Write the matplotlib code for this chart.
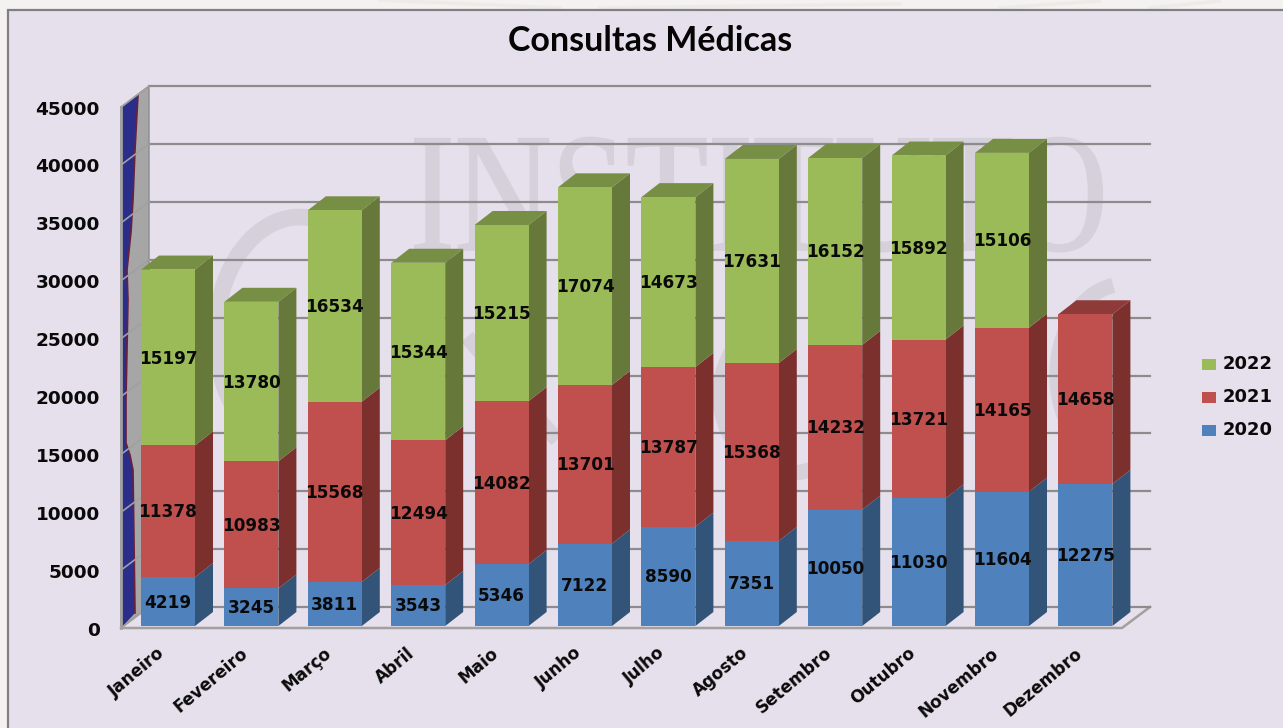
import numpy as np
import matplotlib
matplotlib.use('Agg')
import matplotlib.pyplot as plt
from matplotlib.patches import Polygon, PathPatch
from matplotlib.textpath import TextPath
from matplotlib.font_manager import FontProperties
from matplotlib.transforms import Affine2D

meses = ['Janeiro', 'Fevereiro', 'Março', 'Abril', 'Maio', 'Junho', 'Julho',
         'Agosto', 'Setembro', 'Outubro', 'Novembro', 'Dezembro']
v2020 = [4219, 3245, 3811, 3543, 5346, 7122, 8590, 7351, 10050, 11030, 11604, 12275]
v2021 = [11378, 10983, 15568, 12494, 14082, 13701, 13787, 15368, 14232, 13721, 14165, 14658]
v2022 = [15197, 13780, 16534, 15344, 15215, 17074, 14673, 17631, 16152, 15892, 15106, 0]
anos = ['2020', '2021', '2022']
yticks = [0, 5000, 10000, 15000, 20000, 25000, 30000, 35000, 40000, 45000]

cores = ['#4F81BD', '#C0504D', '#9BBB59']
cores_lado = ['#335479', '#7C302E', '#66783A']
cores_topo = ['#3F6797', '#8E3A38', '#778E45']

W, H = 1283, 728
fig = plt.figure(figsize=(W / 100, H / 100), dpi=100, facecolor='#F3F2F0')

# fundo em pixels (moldura e marca d'agua)
bg = fig.add_axes([0, 0, 1, 1])
bg.set_xlim(0, W)
bg.set_ylim(H, 0)
bg.axis('off')
bg.add_patch(Polygon([(8, 10), (W + 10, 10), (W + 10, H + 10), (8, H + 10)], fc='#E6E0EC', ec='#808080', lw=1.6))
for x0, x1, y0, y1 in [(380, 560, 0, 8), (600, 900, 8, 4), (1000, 1100, 8, 1), (1150, 1220, 8, 1)]:
    bg.plot([x0, x1], [y0, y1], color='#ECEBE7', lw=2.5, zorder=0.5)

marca = '#D5D0DA'
fp = FontProperties(family='Liberation Serif')
tp = TextPath((0, 0), 'INSTITUTO', size=100, prop=fp)
tr = Affine2D().scale(7.0 / 5.22, -1.7).translate(410, 250)
bg.add_patch(PathPatch(tp.transformed(tr), fc=marca, ec=marca, lw=1.2))
# pedacos do logo que aparecem entre as barras
t = np.radians(np.linspace(70, 265, 80))
bg.plot(300 + 84 * np.cos(t), 335 - 118 * np.sin(t), color=marca, lw=12, solid_capstyle='butt')
t = np.radians(np.linspace(100, 255, 60))
bg.plot(1125 + 68 * np.cos(t), 375 - 91 * np.sin(t), color=marca, lw=11, solid_capstyle='butt')
t = np.radians(np.linspace(120, 300, 60))
bg.plot(790 + 70 * np.cos(t), 395 - 78 * np.sin(t), color=marca, lw=11, solid_capstyle='butt')
bg.plot([467, 557], [337, 440], color=marca, lw=11, solid_capstyle='butt')

# eixo principal: categorias em x, valores em y
ax = fig.add_axes([0, 0, 1, 1], facecolor='none')
px_x = 83.4
px_y = 0.011575
x0_px, y0_px = 168, 626
ax.set_xlim(-x0_px / px_x, (W - x0_px) / px_x)
ax.set_ylim(-(H - y0_px) / px_y, y0_px / px_y)
ax.axis('off')


def px(x, y):
    return (x - x0_px) / px_x, (y0_px - y) / px_y


# profundidade das barras e da parede
dbx, dby = 18 / px_x, 14 / px_y
dwx, dwy = 28 / px_x, 21 / px_y
xf = (121 - x0_px) / px_x
xr = (1122 - x0_px) / px_x
y_chao = -2 / px_y
grade = '#8C8C8C'

# parede esquerda
ytop = yticks[-1]
ax.add_patch(Polygon([(xf, y_chao), (xf + dwx, y_chao + dwy), (xf + dwx, ytop + dwy + y_chao), (xf, ytop + y_chao)],
                     fc='#A6A6A6', ec=grade, lw=1, zorder=1))
borda = [(138, 95), (135, 150), (133, 200), (131, 232), (127, 270), (128, 300), (127, 350), (126, 400),
         (126, 443), (130, 455), (133, 470), (134, 540), (135, 613)]
azul = [px(121, 108)] + [px(a, b) for a, b in borda] + [px(121, 628)]
ax.add_patch(Polygon(azul, fc='#2B2D8B', ec='none', zorder=1.1))
ax.plot(*zip(*[px(a, b) for a, b in borda]), color='#6B2038', lw=1.2, zorder=1.2)

# chao
ax.add_patch(Polygon([(xf, y_chao), (xr, y_chao), (xr + dwx, y_chao + dwy), (xf + dwx, y_chao + dwy)],
                     fc='#E6E0EC', ec='none', zorder=1))
ax.plot([xf, xr, xr + dwx], [y_chao, y_chao, y_chao + dwy], color='#A0A0A0', lw=1.8, zorder=1.5)
ax.plot([xf, xf + dwx], [y_chao, y_chao + dwy], color='#A0A0A0', lw=1, zorder=1.5)

# grades
for v in yticks:
    ax.plot([xf + dwx, xr + dwx], [v + y_chao + dwy] * 2, color=grade, lw=1.6, zorder=1.5)
    ax.plot([xf, xf + dwx], [v + y_chao, v + y_chao + dwy], color='#A0A0A0', lw=1.2, zorder=1.5)
    ax.text(xf - 21 / px_x, v + y_chao - 2.5 / px_y, str(v), ha='right', va='center', fontsize=13.3,
            fontweight='bold', color='#0A0A0A', zorder=6)
ax.plot([xf, xf], [y_chao, ytop + y_chao], color='#A0A0A0', lw=2, zorder=1.5)

# barras empilhadas
series = [v2020, v2021, v2022]
larg = 54 / px_x
for i in range(len(meses)):
    base = 0
    esq = i - larg / 2
    dir_ = i + larg / 2
    # so a serie mais alta leva tampa
    ultima = max(s for s in range(3) if series[s][i] > 0)
    for s in range(3):
        v = series[s][i]
        if v == 0:
            continue
        topo = base + v
        z = 3 + i * 0.01
        ax.bar(i, v, width=larg, bottom=base, color=cores[s], edgecolor='none', zorder=z + 0.2)
        ax.add_patch(Polygon([(dir_, base), (dir_ + dbx, base + dby), (dir_ + dbx, topo + dby), (dir_, topo)],
                             fc=cores_lado[s], ec='none', zorder=z))
        if s == ultima:
            ax.add_patch(Polygon([(esq, topo), (dir_, topo), (dir_ + dbx, topo + dby), (esq + dbx, topo + dby)],
                                 fc=cores_topo[s], ec='none', zorder=z))
        ax.text(i, base + v / 2 - 1 / px_y, str(v), ha='center', va='center', fontsize=12.2, fontweight='bold',
                color='#0A0A0A', zorder=7)
        base = topo
    ax.text(i - 11.5 / px_x, -18 / px_y, meses[i], rotation=40, rotation_mode='anchor', ha='right', va='top',
            fontsize=12.2, fontweight='bold', color='#0A0A0A', zorder=6)

# titulo
ax.text((650 - x0_px) / px_x, (y0_px - 41) / px_y, 'Consultas Médicas', ha='center', va='center',
        fontsize=24.5, fontweight='bold', family='Lato', color='#050505')

# legenda
for s, yy in zip(range(3), [429, 396, 363]):
    lx, ly = px(1202, yy + 1)
    ax.bar(lx + 7 / px_x, 11 / px_y, width=14 / px_x, bottom=ly - 5.5 / px_y, color=cores[s], zorder=6)
    ax.text(lx + 21 / px_x, ly, anos[s], ha='left', va='center', fontsize=13, fontweight='bold',
            color='#0A0A0A', zorder=6)

fig.savefig('out.png', dpi=100, facecolor=fig.get_facecolor())
